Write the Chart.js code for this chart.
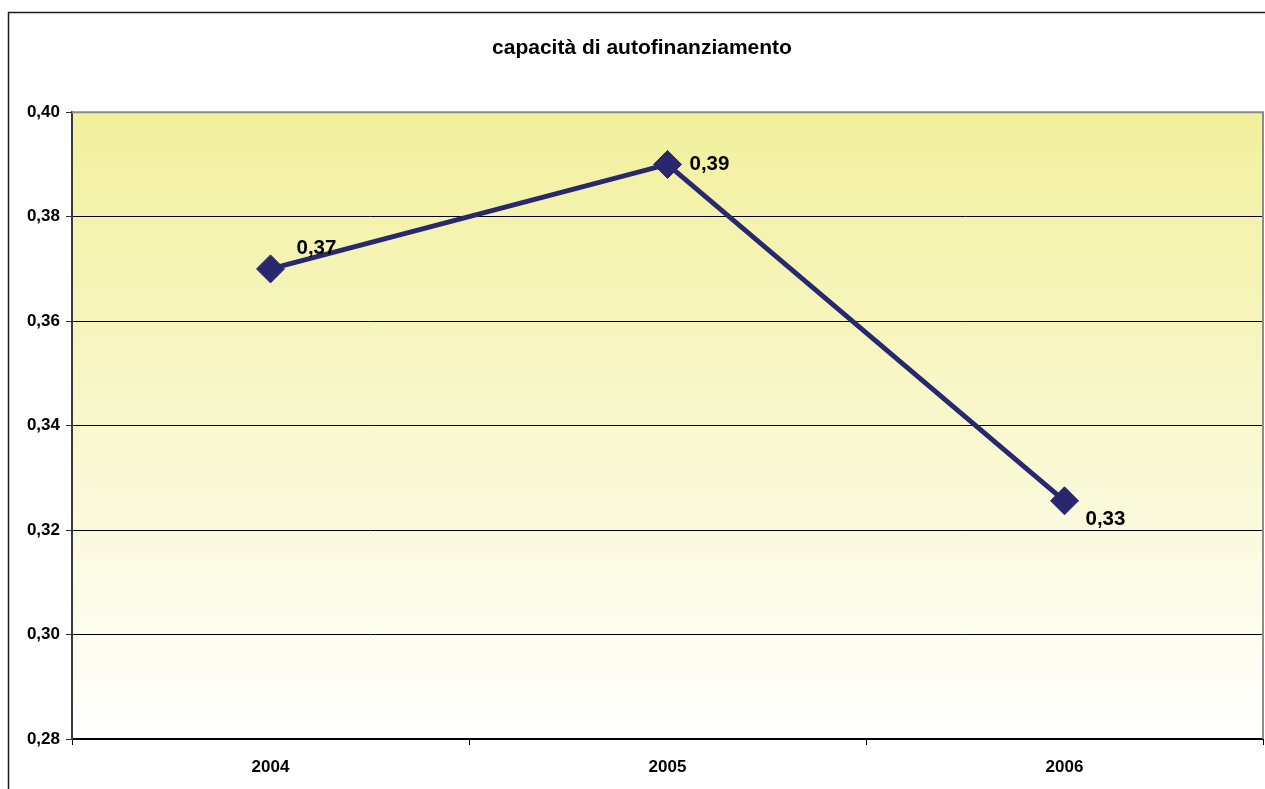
<!DOCTYPE html>
<html>
<head>
<meta charset="utf-8">
<script src="https://cdn.jsdelivr.net/npm/chart.js@4.4.0/dist/chart.umd.min.js"></script>
<style>
  html, body { margin: 0; padding: 0; background: #fff; overflow: hidden; }
  #wrap { position: relative; width: 1286px; height: 800px; }
</style>
</head>
<body>
<div id="wrap"><canvas id="myChart"></canvas></div>
<script>
const anni = ['2004', '2005', '2006']
const capacita = [0.37, 0.39, 0.3256]
const yTicks = [0.28, 0.30, 0.32, 0.34, 0.36, 0.38, 0.40]

const fmt = v => (Math.round(v * 100) / 100).toFixed(2).replace('.', ',')

// yellow-to-white fill behind the plot, plus the outer frame
const sfondo = {
  id: 'sfondo',
  beforeDraw(chart) {
    const { ctx, chartArea: a } = chart
    ctx.save()
    ctx.strokeStyle = '#1a1a1a'
    ctx.lineWidth = 1.5
    ctx.strokeRect(8.5, 12.5, 1400, 900)
    const g = ctx.createLinearGradient(0, a.top, 0, a.bottom)
    g.addColorStop(0, '#f2f09c')
    g.addColorStop(1, '#ffffff')
    ctx.fillStyle = g
    ctx.fillRect(a.left, a.top, a.right - a.left, a.bottom - a.top)
    ctx.restore()
  },
  beforeDatasetsDraw(chart) {
    const { ctx, chartArea: a } = chart
    ctx.save()
    ctx.strokeStyle = '#8c8c8c'
    ctx.lineWidth = 2
    ctx.beginPath()
    ctx.moveTo(a.left, a.top)
    ctx.lineTo(a.right, a.top)
    ctx.lineTo(a.right, a.bottom)
    ctx.stroke()
    ctx.restore()
  }
}

// value labels next to each diamond
const etichette = {
  id: 'etichette',
  afterDatasetsDraw(chart) {
    const { ctx } = chart
    const shift = [[26, -21], [22, 0], [21, 19]]
    ctx.save()
    ctx.font = 'bold 20.5px "Liberation Sans", Arial, sans-serif'
    ctx.fillStyle = '#000'
    ctx.textAlign = 'left'
    ctx.textBaseline = 'middle'
    chart.getDatasetMeta(0).data.forEach((p, i) => {
      ctx.fillText(fmt(capacita[i]), p.x + shift[i][0], p.y + shift[i][1])
    })
    ctx.restore()
  }
}

new Chart(document.getElementById('myChart'), {
  type: 'line',
  data: {
    labels: anni,
    datasets: [{
      data: capacita,
      borderColor: '#29286f',
      borderWidth: 5,
      pointStyle: 'rectRot',
      pointRadius: 14,
      pointBackgroundColor: '#29286f',
      pointBorderColor: '#29286f',
      pointBorderWidth: 1,
      tension: 0,
      clip: false
    }]
  },
  options: {
    responsive: true,
    maintainAspectRatio: false,
    animation: false,
    layout: { padding: { left: 21, right: 23, top: 0, bottom: 0 } },
    plugins: {
      legend: { display: false },
      tooltip: { enabled: false },
      title: {
        display: true,
        text: 'capacità di autofinanziamento',
        color: '#000',
        font: { family: '"Liberation Sans", Arial, sans-serif', size: 21, weight: 'bold' },
        padding: { top: 36, bottom: 51 }
      }
    },
    scales: {
      x: {
        offset: true,
        grid: { display: true, drawOnChartArea: false, offset: true, tickLength: 6, color: '#000' },
        border: { color: '#000', width: 2 },
        ticks: {
          color: '#000',
          padding: 12,
          maxRotation: 0,
          font: { family: '"Liberation Sans", Arial, sans-serif', size: 17, weight: 'bold' }
        },
        afterFit(scale) { scale.height = 61 }
      },
      y: {
        min: 0.28,
        max: 0.40,
        afterBuildTicks(scale) { scale.ticks = yTicks.map(v => ({ value: v })) },
        grid: {
          color: c => c.index === yTicks.length - 1 ? '#8c8c8c' : '#000',
          lineWidth: 1,
          tickLength: 6,
          tickColor: '#333'
        },
        border: { color: '#3a3a3a', width: 2 },
        ticks: {
          color: '#000',
          padding: 6,
          callback: v => fmt(v),
          font: { family: '"Liberation Sans", Arial, sans-serif', size: 17, weight: 'bold' }
        },
        afterFit(scale) { scale.width = 51 }
      }
    }
  },
  plugins: [sfondo, etichette]
})
</script>
</body>
</html>
